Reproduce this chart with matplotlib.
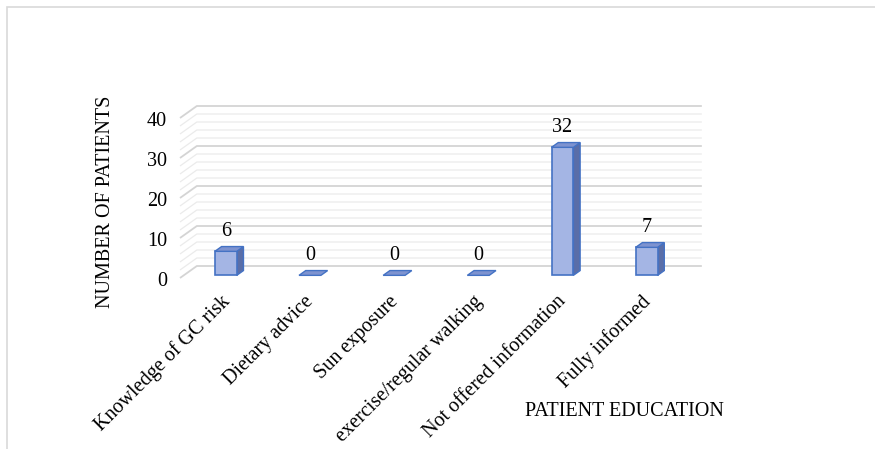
import matplotlib
matplotlib.use("Agg")
import matplotlib.pyplot as plt
from matplotlib.patches import Polygon, Rectangle

# patient education counts
categories = ["Knowledge of GC risk", "Dietary advice", "Sun exposure",
              "exercise/regular walking", "Not offered information", "Fully informed"]
patients = [6, 0, 0, 0, 32, 7]
y_ticks = [0, 10, 20, 30, 40]

plt.rcParams["font.family"] = ["Liberation Serif", "DejaVu Serif"]
FS = 14.5

# fake 3d: depth d in [0, 1] shifts a point by (d*DX, d*DY)
DX = 0.2      # category units
DY = 3.0      # value units
BAR_W = 0.26
BAR_D0, BAR_D1 = 0.22, 0.62

EDGE = "#4472c4"
FRONT = "#a4b5e4"
SIDE = "#5a6ea8"
TOP = "#7e93d0"


def proj(x, v, d):
    return (x + d * DX, v + d * DY)


fig = plt.figure(figsize=(8.75, 4.49), dpi=100)
fig.patches.append(Rectangle((7 / 875, -0.1), 1.2, (449 - 7) / 449 + 0.1,
                             transform=fig.transFigure, fill=False,
                             edgecolor="#d9d9d9", linewidth=1.2))

ax = fig.add_axes([180 / 875, (449 - 278) / 449, 505 / 875, 180 / 449])
ax.set_xlim(-0.5, 5.5)
ax.set_ylim(0, 45)
ax.axis("off")

x0, x1 = -0.5, 5.5

# back wall gridlines with the slanted side wall
for v in range(0, 41, 2):
    major = v % 10 == 0
    col = "#d4d4d4" if major else "#ebebeb"
    lw = 1.3 if major else 0.9
    pts = [proj(x0, v, 0), proj(x0, v, 1), proj(x1, v, 1)]
    ax.plot([p[0] for p in pts], [p[1] for p in pts], color=col, lw=lw,
            clip_on=False, zorder=1, solid_capstyle="butt")

for v in y_ticks:
    ax.annotate(str(v), xy=(x0, v), xytext=(-13, -3), textcoords="offset pixels",
                ha="right", va="center", fontsize=FS)

# columns
for i, val in enumerate(patients):
    xl = i - BAR_W / 2
    xr = i + BAR_W / 2
    fbl = proj(xl, 0, BAR_D0)
    fbr = proj(xr, 0, BAR_D0)
    ftl = proj(xl, val, BAR_D0)
    ftr = proj(xr, val, BAR_D0)
    bbr = proj(xr, 0, BAR_D1)
    btl = proj(xl, val, BAR_D1)
    btr = proj(xr, val, BAR_D1)
    if val > 0:
        ax.add_patch(Polygon([fbr, bbr, btr, ftr], closed=True, facecolor=SIDE,
                             edgecolor=EDGE, lw=1.0, zorder=3, clip_on=False))
        ax.add_patch(Polygon([fbl, fbr, ftr, ftl], closed=True, facecolor=FRONT,
                             edgecolor=EDGE, lw=1.2, zorder=4, clip_on=False))
    ax.add_patch(Polygon([ftl, ftr, btr, btl], closed=True, facecolor=TOP,
                         edgecolor=EDGE, lw=1.0, zorder=5, clip_on=False))
    ax.annotate(str(val), xy=proj(i, val, BAR_D0), xytext=(0, 20),
                textcoords="offset pixels", ha="center", va="center", fontsize=FS)

# category labels
for i, name in enumerate(categories):
    ax.annotate(name, xy=(i, 0), xytext=(-2, -14), textcoords="offset pixels",
                ha="right", va="top", rotation=45, rotation_mode="anchor",
                fontsize=FS)

fig.text(105 / 875, 1 - 202 / 449, "NUMBER OF PATIENTS", rotation=90,
         ha="center", va="center", fontsize=FS)
fig.text(624 / 875, 1 - 411 / 449, "PATIENT EDUCATION",
         ha="center", va="center", fontsize=FS)

fig.savefig("out.png", dpi=100)
